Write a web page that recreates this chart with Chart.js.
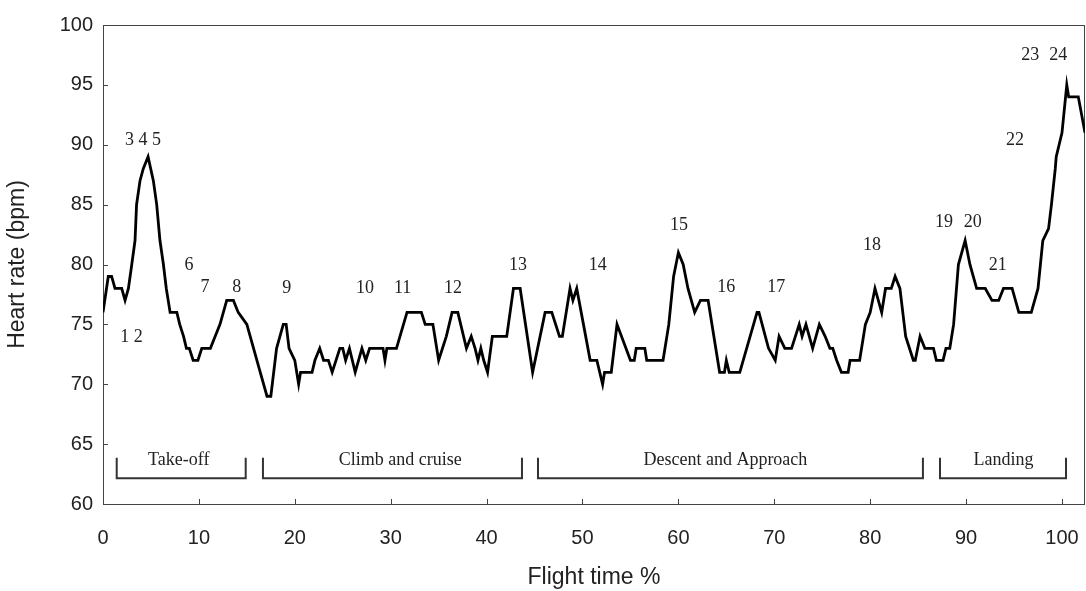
<!DOCTYPE html>
<html><head><meta charset="utf-8">
<script src="https://cdn.jsdelivr.net/npm/chart.js@4.4.0/dist/chart.umd.min.js"></script>
<style>html,body{margin:0;padding:0;background:#fff}#wrap{width:1086px;height:591px}</style>
</head><body><div id="wrap"><canvas id="c" width="1086" height="591"></canvas></div>
<script>
const flightTime = [0.0,0.55,0.9,1.25,1.95,2.3,2.65,3.0,3.34,3.5,3.86,4.2,4.7,5.25,5.6,5.94,6.3,6.6,7.0,7.7,8.0,8.4,8.7,9.0,9.4,9.9,10.3,11.2,11.7,12.2,12.9,13.6,14.1,15.0,15.7,16.4,17.1,17.5,
18.1,18.8,19.1,19.4,20.0,20.4,20.6,21.8,22.1,22.6,23.0,23.5,23.9,24.7,25.0,25.3,25.7,26.3,27.0,27.4,27.8,29.2,29.4,29.6,30.6,31.7,33.2,33.6,34.4,35.0,35.8,36.4,37.0,37.9,38.4,38.8,39.1,39.4,39.7,40.1,40.6,42.1,42.8,43.5,44.8,
46.1,46.8,47.6,47.9,48.7,49.0,49.4,50.1,50.8,51.5,52.1,52.3,53.0,53.6,55.0,55.4,55.6,56.5,56.7,58.4,59.0,59.5,60.0,60.5,61.0,61.7,62.3,63.1,64.3,64.8,65.0,65.3,66.4,68.2,68.4,69.4,70.1,70.5,71.1,71.8,72.2,72.6,72.9,73.3,74.0,74.7,75.3,75.8,76.1,76.5,77.0,77.7,77.9,78.9,79.5,80.0,80.5,81.2,81.6,82.2,82.6,83.1,83.7,84.5,84.7,85.2,85.7,86.6,86.9,87.6,87.9,88.3,88.7,89.2,89.9,90.4,91.1,92.0,92.7,93.4,93.9,94.8,95.5,96.8,97.5,98.0,98.6,98.9,99.3,99.4,100.0,100.5,100.7,101.7,102.4];
const heartRate = [76,79,79,78,78,77,78,80,82,85,87,88,89,87,85,82,80,78,76,76,75,74,73,73,72,72,73,73,74,75,77,77,76,75,73,71,69,69,
73,75,75,73,72,70,71,71,72,73,72,72,71,73,73,72,73,71,73,72,73,73,72,73,73,76,76,75,75,72,74,76,76,73,74,73,72,73,72,71,74,74,78,78,71,
76,76,74,74,78,77,78,75,72,72,70,71,71,75,72,72,73,73,72,72,75,79,81,80,78,76,77,77,71,71,72,71,71,76,76,73,72,74,73,73,74,75,74,75,73,75,74,73,73,72,71,71,72,72,75,76,78,76,78,78,79,78,74,72,72,74,73,73,72,72,73,73,75,80,82,80,78,78,77,77,78,78,76,76,78,82,83,85,88,89,91,95,94,94,91];
const yTicks = [60,65,70,75,80,85,90,95,100];
const xTicks = [0,10,20,30,40,50,60,70,80,90,100];
const eventLabels = ["1 2","3 4 5","6","7","8","9","10","11","12","13","14","15","16","17","18","19","20","21","22","23","24"];
const eventX = [2.97,4.17,8.97,10.64,13.94,19.16,27.32,31.25,36.5,43.27,51.6,60.06,65.0,70.2,80.2,87.7,90.7,93.3,95.1,96.7,99.6];
const eventY = [73.9,90.4,79.9,78.1,78.1,78.0,78.0,78.0,78.0,79.9,79.9,83.3,78.1,78.1,81.6,83.5,83.5,79.9,90.4,97.5,97.5];
const phaseNames = ["Take-off","Climb and cruise","Descent and Approach","Landing"];
const phaseStart = [1.43,16.68,45.36,87.28];
const phaseEnd = [14.88,43.69,85.5,100.42];
const phaseTextX = [7.9,31.0,64.9,93.9];
const bracketTop = 63.87, bracketBottom = 62.15, phaseTextY = 63.67;

const sans = "'Liberation Sans', Arial, sans-serif";
const serif = "'Liberation Serif', 'Times New Roman', serif";

const overlay = {
  id: 'overlay',
  beforeDatasetsDraw(chart) {
    const {ctx, chartArea: a, scales: {x, y}} = chart;
    ctx.save();
    ctx.strokeStyle = '#444';
    ctx.lineWidth = 1;
    ctx.strokeRect(Math.round(a.left) + 0.5, Math.round(a.top) + 0.5, Math.round(a.right - a.left) - 1, Math.round(a.bottom - a.top));
    ctx.beginPath();
    yTicks.forEach(v => { const p = Math.round(y.getPixelForValue(v)) + 0.5; ctx.moveTo(a.left, p); ctx.lineTo(a.left + 5, p); });
    xTicks.forEach(v => { const p = Math.round(x.getPixelForValue(v)) + 0.5; ctx.moveTo(p, a.bottom); ctx.lineTo(p, a.bottom - 5); });
    ctx.stroke();
    ctx.strokeStyle = '#333';
    ctx.lineWidth = 2;
    const yt = y.getPixelForValue(bracketTop), yb = y.getPixelForValue(bracketBottom);
    phaseNames.forEach((n, i) => {
      const x0 = x.getPixelForValue(phaseStart[i]), x1 = x.getPixelForValue(phaseEnd[i]);
      ctx.beginPath();
      ctx.moveTo(x0, yt); ctx.lineTo(x0, yb); ctx.lineTo(x1, yb); ctx.lineTo(x1, yt);
      ctx.stroke();
    });
    ctx.fillStyle = '#222';
    ctx.font = '18px ' + serif;
    ctx.textAlign = 'center';
    ctx.textBaseline = 'middle';
    phaseNames.forEach((n, i) => ctx.fillText(n, x.getPixelForValue(phaseTextX[i]), y.getPixelForValue(phaseTextY)));
    eventLabels.forEach((t, i) => ctx.fillText(t, x.getPixelForValue(eventX[i]), y.getPixelForValue(eventY[i])));
    ctx.restore();
  }
};

new Chart(document.getElementById('c'), {
  type: 'scatter',
  data: {
    datasets: [{
      data: flightTime.map((t, i) => ({x: t, y: heartRate[i]})),
      showLine: true,
      borderColor: '#000',
      borderWidth: 2.8,
      pointRadius: 0,
      tension: 0,
      fill: false
    }]
  },
  options: {
    responsive: false,
    animation: false,
    devicePixelRatio: 1,
    layout: {padding: {top: 25, right: 1, left: 0, bottom: 0}},
    plugins: {legend: {display: false}, tooltip: {enabled: false}},
    scales: {
      x: {
        type: 'linear', min: 0, max: 102.4,
        afterBuildTicks: s => { s.ticks = xTicks.map(v => ({value: v})); },
        afterFit: s => { s.height = 87; s.paddingLeft = 0; s.paddingRight = 0; },
        grid: {display: false, drawTicks: false},
        border: {display: false},
        ticks: {font: {family: sans, size: 20}, color: '#222', padding: 22, maxRotation: 0, autoSkip: false},
        title: {display: true, text: 'Flight time %', font: {family: sans, size: 23}, color: '#222', padding: {top: 0, bottom: 0}}
      },
      y: {
        min: 60, max: 100,
        afterBuildTicks: s => { s.ticks = yTicks.map(v => ({value: v})); },
        afterFit: s => { s.width = 103; s.paddingTop = 0; s.paddingBottom = 0; },
        grid: {display: false, drawTicks: false},
        border: {display: false},
        ticks: {font: {family: sans, size: 20}, color: '#222', padding: 10, autoSkip: false},
        title: {display: true, text: 'Heart rate (bpm)', font: {family: sans, size: 23}, color: '#222', padding: {top: 4, bottom: 0}}
      }
    }
  },
  plugins: [overlay]
});
</script></body></html>
